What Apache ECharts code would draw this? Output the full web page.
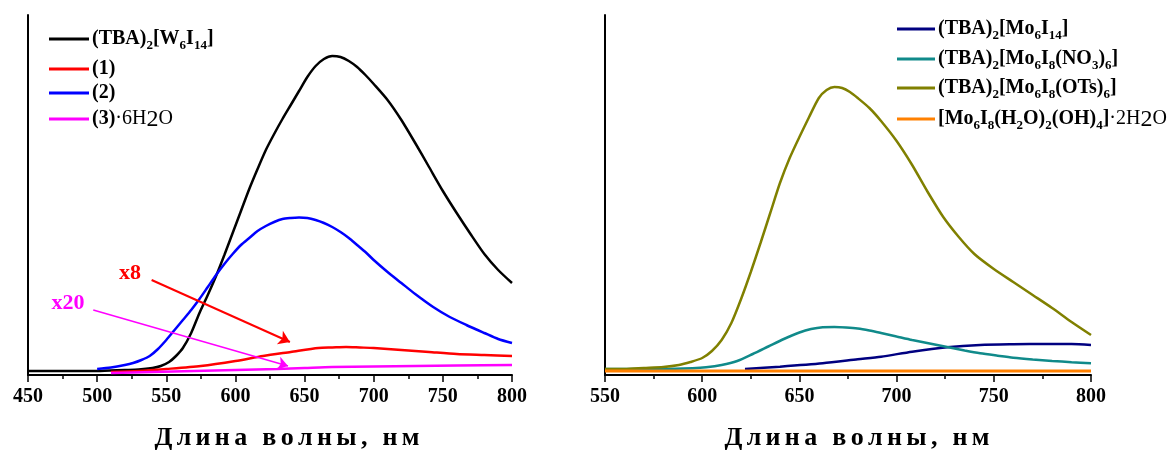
<!DOCTYPE html>
<html><head><meta charset="utf-8">
<script src="https://cdn.jsdelivr.net/npm/echarts@6/dist/echarts.min.js"></script>
<style>html,body{margin:0;padding:0;background:#fff}#c{width:1171px;height:452px}</style>
</head><body><div id="c"></div>
<script>
// ---- Left panel data ----
const wlBlack = [450,480,500,520,530,540,546,552,557,562,568,574,580,586,592,598,604,610,616,622,628,634,640,646,652,658,664,670,676,682,688,694,700,710,720,730,740,750,760,770,780,790,800];
const intBlack = [4,4,4,5,5.5,7,9,13,19,27,42,62,80,99,120,142,164,186,206,225,241,256,270,284,298,309,316,319,318,314,308,300,291,275,255,232,208,184,162,141,121,105,92];
const wlRed = [510,530,550,575,600,620,640,660,670,680,690,700,720,740,760,780,800];
const intRed = [3,4,6,9,14,19,23,27,27.5,28,27.5,27,25,23,21,20,19];
const wlBlue = [500,510,520,526,532,538,544,550,556,562,568,574,580,586,592,598,604,610,616,622,628,634,640,646,652,658,664,670,676,682,688,694,700,710,720,730,743,755,767,780,790,800];
const intBlue = [6,7.5,10,12,15,19,26,35,45,55,65,76,88,100,111,121,130,137,144,149,153,156,157,157.5,157,155,152,148,143,137,130,123,115,103,92,81,68,58,50,42,36,32];
const wlMag = [510,540,570,600,630,650,670,700,730,760,800];
const intMag = [2,3,4,5,6,7,8,8.5,9,9.5,10];

// ---- Right panel data ----
const wlNavy = [622,640,662,680,692,708,726,743,760,777,790,800];
const intNavy = [6,8.3,11.7,15.7,18.3,23.3,27.7,30,30.7,31,31,30];
const wlTeal = [550,580,595,602,610,618,626,634,642,650,656,662,668,674,680,686,692,700,708,717,726,735,743,752,760,770,780,790,800];
const intTeal = [6,6,6.8,7.7,10,14,21,28.5,36,42.5,46,47.8,48,47.5,46.5,44.5,42,38.5,35,31.5,28,24.5,21.7,19.3,17.3,15.5,14,12.8,11.7];
const wlOlive = [550,560,570,580,588,594,600,605,610,615,620,625,630,635,640,645,650,655,660,664,668,672,676,680,686,692,700,708,716,724,732,740,750,760,770,780,790,800];
const intOlive = [6,6,7,8,10,13,17,24,35,52,76,103,132,162,192,217,238,258,277,285,288,287,283,277,267,254,234,210,183,158,138,121,106,93,80,67,53,40];
const wlOrange = [550,600,650,700,750,800];
const intOrange = [4,4,4,4,4,4];

// ---- Axis ticks ----
const leftXRange = [450, 800];
const rightXRange = [550, 800];
const tickStep = 50;

// ---- Annotations (data coords) ----
const annX8Text = [523.7, 102];
const annX8Arrow = [[539.4, 95], [639.4, 33]];
const annX20Text = [478.9, 72];
const annX20Arrow = [[497.2, 65], [638, 9]];

// ---- Names ----
const nBlack = 'black', nRed = 'red', nBlue = 'blue', nMag = 'mag';
const nNavy = 'navy', nTeal = 'teal', nOlive = 'olive', nOrange = 'orange';
const labels = {
  black: '{b|(TBA)}{s|2}{b|[W}{s|6}{b|I}{s|14}{b|]}',
  red: '{b|(1)}',
  blue: '{b|(2)}',
  mag: '{b|(3)}{n|·6H}{n2|2}{n|O}',
  navy: '{b|(TBA)}{s|2}{b|[Mo}{s|6}{b|I}{s|14}{b|]}',
  teal: '{b|(TBA)}{s|2}{b|[Mo}{s|6}{b|I}{s|8}{b|(NO}{s|3}{b|)}{s|6}{b|]}',
  olive: '{b|(TBA)}{s|2}{b|[Mo}{s|6}{b|I}{s|8}{b|(OTs)}{s|6}{b|]}',
  orange: '{b|[Mo}{s|6}{b|I}{s|8}{b|(H}{s|2}{b|O)}{s|2}{b|(OH)}{s|4}{b|]}{n|·2H}{n2|2}{n|O}'
};
const axisTitle = 'Длина волны, нм';

const FF = 'Liberation Serif';
const rich = {
  b: {fontFamily: FF, fontWeight: 'bold', fontSize: 20, lineHeight: 26, verticalAlign: 'middle', color: '#000'},
  s: {fontFamily: FF, fontWeight: 'bold', fontSize: 13, lineHeight: 15, verticalAlign: 'bottom', color: '#000'},
  n: {fontFamily: FF, fontWeight: 'normal', fontSize: 20, lineHeight: 26, verticalAlign: 'middle', color: '#000'},
  n2: {fontFamily: FF, fontWeight: 'normal', fontSize: 24, lineHeight: 23, verticalAlign: 'bottom', color: '#000'}
};

function spaced(t) { return t.split('').join('\u2006'); }
function pairs(xs, ys) { return xs.map((x, i) => [x, ys[i]]); }
function line(name, xs, ys, color, gi, width, extra) {
  return Object.assign({
    name, type: 'line', xAxisIndex: gi, yAxisIndex: gi, data: pairs(xs, ys),
    showSymbol: false, symbol: 'none', smooth: 0.25, animation: false,
    lineStyle: {color, width}, itemStyle: {color}
  }, extra || {});
}
function leg(name, left, top, w) {
  return {
    data: [name], left, top, orient: 'vertical', icon: 'rect', itemWidth: w, itemHeight: 3, itemGap: 0,
    padding: 0, formatter: (n) => labels[n], textStyle: {rich, padding: [0,0,0,-2]}, selectedMode: false
  };
}
function xAx(gi, range, shift) {
  return {
    type: 'value', gridIndex: gi, min: range[0], max: range[1], interval: tickStep,
    axisLine: {show: true, onZero: false, lineStyle: {color: '#000', width: 2}},
    axisTick: {show: true, inside: false, length: 7, lineStyle: {color: '#000', width: 1.5}},
    minorTick: {show: true, splitNumber: 2, length: 4, lineStyle: {color: '#000', width: 1.5}},
    axisLabel: {color: '#000', fontFamily: FF, fontWeight: 'bold', fontSize: 20, margin: 12},
    splitLine: {show: false},
    name: spaced(axisTitle), nameLocation: 'middle', nameGap: 50,
    nameTextStyle: {color: '#000', fontFamily: FF, fontWeight: 'bold', fontSize: 26, padding: [0, 0, 0, shift]}
  };
}
function yAx(gi) {
  return {
    type: 'value', gridIndex: gi, min: 0, max: 360,
    axisLine: {show: true, lineStyle: {color: '#000', width: 2}},
    axisTick: {show: false}, axisLabel: {show: false}, splitLine: {show: false}
  };
}

const chart = echarts.init(document.getElementById('c'), null, {renderer: 'canvas'});
chart.setOption({
  backgroundColor: '#fff',
  animation: false,
  grid: [
    {left: 28, top: 15, width: 484, height: 360, containLabel: false, outerBoundsMode: 'none'},
    {left: 605, top: 15, width: 486, height: 360, containLabel: false, outerBoundsMode: 'none'}
  ],
  xAxis: [xAx(0, leftXRange, 34), xAx(1, rightXRange, 18)],
  yAxis: [yAx(0), yAx(1)],
  legend: [
    leg(nBlack, 49, 29, 40), leg(nRed, 49, 59, 40), leg(nBlue, 49, 83, 40), leg(nMag, 49, 108, 40),
    leg(nNavy, 897, 19, 38), leg(nTeal, 897, 49, 38), leg(nOlive, 897, 78, 38), leg(nOrange, 897, 108, 38)
  ],
  series: [
    line(nBlack, wlBlack, intBlack, '#000000', 0, 2.5),
    line(nRed, wlRed, intRed, '#ff0000', 0, 2.5, {
      markLine: {silent: true, symbol: ['none', 'arrow'], symbolSize: 11, animation: false,
        lineStyle: {color: '#ff0000', width: 2, type: 'solid'}, label: {show: false},
        data: [[{coord: annX8Arrow[0]}, {coord: annX8Arrow[1]}]]},
      markPoint: {silent: true, symbol: 'circle', symbolSize: 0, animation: false,
        label: {show: true, position: 'inside', formatter: 'x8', color: '#ff0000', fontFamily: FF, fontWeight: 'bold', fontSize: 22},
        data: [{coord: annX8Text}]}
    }),
    line(nBlue, wlBlue, intBlue, '#0000ff', 0, 2.5),
    line(nMag, wlMag, intMag, '#ff00ff', 0, 2.5, {
      markLine: {silent: true, symbol: ['none', 'arrow'], symbolSize: 10, animation: false,
        lineStyle: {color: '#ff00ff', width: 1.5, type: 'solid'}, label: {show: false},
        data: [[{coord: annX20Arrow[0]}, {coord: annX20Arrow[1]}]]},
      markPoint: {silent: true, symbol: 'circle', symbolSize: 0, animation: false,
        label: {show: true, position: 'inside', formatter: 'x20', color: '#ff00ff', fontFamily: FF, fontWeight: 'bold', fontSize: 22},
        data: [{coord: annX20Text}]}
    }),
    line(nNavy, wlNavy, intNavy, '#000080', 1, 2.5),
    line(nTeal, wlTeal, intTeal, '#108a8a', 1, 2.5),
    line(nOlive, wlOlive, intOlive, '#808000', 1, 2.5),
    line(nOrange, wlOrange, intOrange, '#ff8000', 1, 3)
  ]
});
</script></body></html>
